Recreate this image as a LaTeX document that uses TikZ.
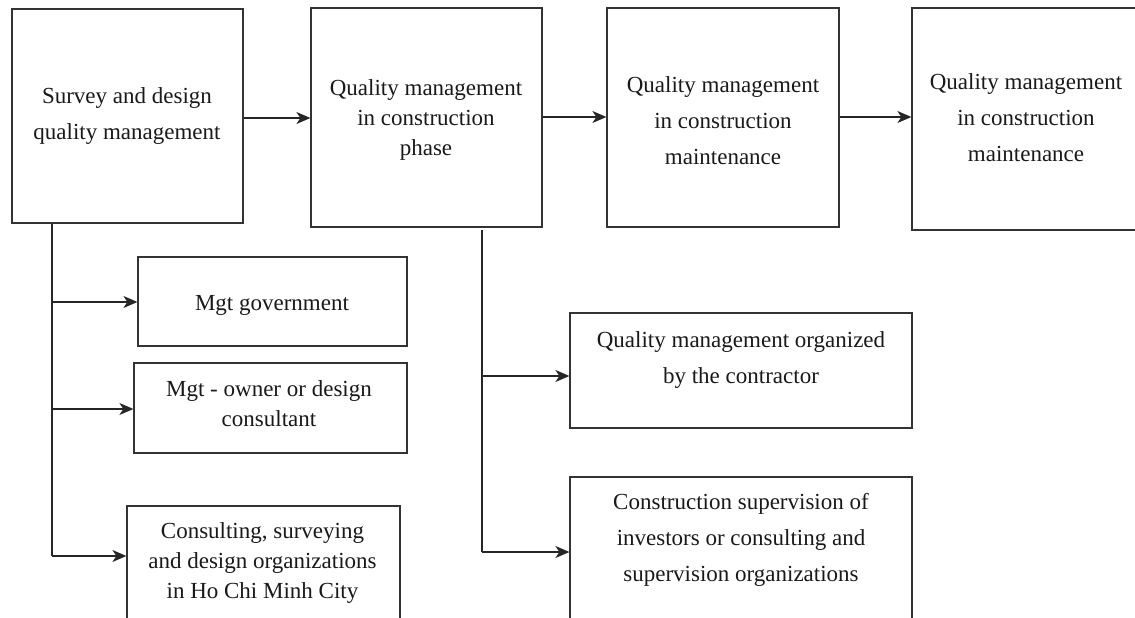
\documentclass[tikz,border=0pt]{standalone}
\usepackage{fontspec}
\setmainfont{Liberation Serif}
\usetikzlibrary{arrows.meta,calc}
\tikzset{
  box/.style={draw=black!80, line width=1.2pt, inner sep=0pt, fill=none},
  txta/.style={align=center, inner sep=0pt, text=black!90, font={\fontsize{23}{30}\selectfont}},
  txtb/.style={align=center, inner sep=0pt, text=black!90, font={\fontsize{23}{36}\selectfont}},
  conn/.style={draw=black!85, line width=1.2pt},
  arr/.style={conn, -{Stealth[length=14pt,width=12pt,inset=4pt]}}
}
\begin{document}
\begin{tikzpicture}[x=1pt,y=-1pt]
\useasboundingbox (0,0) rectangle (1135,618);
\clip (0,0) rectangle (1135,618);
% top row boxes
\node[box, minimum width=231pt, minimum height=214pt] (b1) at (127.5,116) {};
\node[box, minimum width=231pt, minimum height=219pt] (b2) at (426.5,117.5) {};
\node[box, minimum width=232pt, minimum height=219pt] (b3) at (723,117.5) {};
\node[box, minimum width=232pt, minimum height=222pt] (b4) at (1028,119) {};
% lower boxes
\node[box, minimum width=269pt, minimum height=89pt] (g1) at (272.5,301.5) {};
\node[box, minimum width=273pt, minimum height=90pt] (g2) at (270.5,408) {};
\node[box, minimum width=273pt, minimum height=134pt] (g3) at (263.5,573) {};
\node[box, minimum width=342pt, minimum height=115pt] (c1) at (741,370.5) {};
\node[box, minimum width=342pt, minimum height=163pt] (c2) at (741,558.5) {};
% texts
\node[txtb] (t1) at (127,116) {Survey and design\\quality management};
\node[txta] (t2) at (426,120) {Quality management\\in construction\\phase};
\node[txtb] (t3) at (723,121) {Quality management\\in construction\\maintenance};
\node[txtb] (t4) at (1026,118) {Quality management\\in construction\\maintenance};
\node[txta] (tg1) at (272,305) {Mgt government};
\node[txta] (tg2) at (269,404) {Mgt - owner or design\\consultant};
\node[txta] (tg3) at (262.5,563) {Consulting, surveying\\and design organizations\\in Ho Chi Minh City};
\node[txtb] (tc1) at (741,360) {Quality management organized\\by the contractor};
\node[txtb] (tc2) at (741,540) {Construction supervision of\\investors or consulting and\\supervision organizations};
% horizontal arrows between top boxes
\draw[arr] (b1.east |- 0,118) -- (b2.west |- 0,118);
\draw[arr] (b2.east |- 0,117) -- (b3.west |- 0,117);
\draw[arr] (b3.east |- 0,117) -- (b4.west |- 0,117);
% left trunk
\coordinate (j1) at (52,302);
\coordinate (j2) at (52,409);
\coordinate (j3) at (52,556);
\draw[conn] (b1.south -| j3) -- (j3);
\draw[arr] (j1) -- (j1 -| g1.west);
\draw[arr] (j2) -- (j2 -| g2.west);
\draw[arr] (j3) -- (j3 -| g3.west);
% right trunk
\coordinate (k0) at (482,230);
\coordinate (k1) at (482,376);
\coordinate (k2) at (482,552);
\draw[conn] (k0) -- (k2);
\draw[arr] (k1) -- (k1 -| c1.west);
\draw[arr] (k2) -- (k2 -| c2.west);
\end{tikzpicture}
\end{document}
